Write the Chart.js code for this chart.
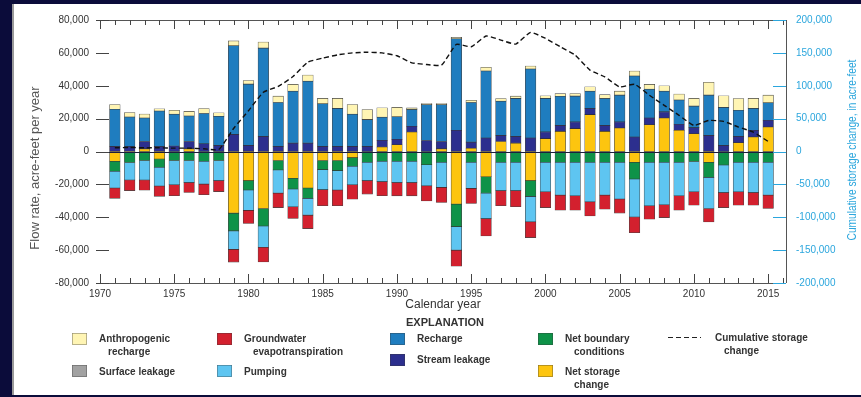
<!DOCTYPE html>
<html>
<head>
<meta charset="utf-8">
<script src="https://cdn.jsdelivr.net/npm/chart.js@4.4.1/dist/chart.umd.min.js"></script>
<style>
  html, body { margin: 0; padding: 0; background: #0b0c3a; }
  #panel { position: absolute; left: 12px; top: 4px; width: 849px; height: 391px; background: #fff; border-left: 2px solid #9a9a9a; box-sizing: border-box; }
  #chart { position: absolute; left: 0; top: 0; }
</style>
</head>
<body>
<div id="panel"></div>
<canvas id="chart" width="861" height="397"></canvas>
<script>
// Calendar years of the water budget
const years = [1971, 1972, 1973, 1974, 1975, 1976, 1977, 1978, 1979, 1980,
  1981, 1982, 1983, 1984, 1985, 1986, 1987, 1988, 1989, 1990,
  1991, 1992, 1993, 1994, 1995, 1996, 1997, 1998, 1999, 2000,
  2001, 2002, 2003, 2004, 2005, 2006, 2007, 2008, 2009, 2010,
  2011, 2012, 2013, 2014, 2015];

// Inflows (acre-feet per year)
const anthropogenicRecharge = [2900, 2700, 2400, 1400, 2400, 2800, 3000, 2200, 3000, 2200,
  3700, 3900, 4100, 3700, 3300, 6100, 5900, 6100, 5700, 5700,
  1000, 600, 600, 800, 1400, 2200, 1600, 1400, 1800, 1600,
  1600, 1600, 2700, 2400, 2400, 3100, 2900, 3300, 3700, 4700,
  7800, 7100, 7100, 6100, 4700];
const recharge = [22600, 18000, 14300, 21600, 19400, 15500, 18400, 17700, 53900, 37300,
  53700, 26700, 31600, 37700, 25900, 23100, 19600, 16300, 14100, 13700,
  10200, 21800, 22400, 55700, 24100, 40800, 20800, 23100, 42000, 20400,
  17700, 15700, 10600, 16300, 16300, 37100, 17500, 12600, 14700, 13100,
  24500, 23100, 15900, 13300, 10600];
const streamLeakage = [3100, 3000, 4500, 3000, 3300, 4500, 4700, 3700, 10400, 3700,
  9200, 3100, 5100, 5100, 3100, 3100, 3100, 3100, 4100, 3300,
  3500, 6700, 4500, 12900, 3700, 8200, 3700, 4100, 8200, 4100,
  3700, 4100, 3700, 3700, 3700, 8800, 4100, 3700, 3700, 3700,
  9800, 3700, 3900, 4100, 4100];
const surfaceLeakage = [0, 0, 0, 0, 0, 0, 0, 0, 0, 0,
  0, 0, 0, 0, 0, 0, 0, 0, 0, 0,
  0, 0, 0, 0, 0, 0, 0, 0, 0, 0,
  0, 0, 0, 0, 0, 0, 0, 0, 0, 0,
  0, 0, 0, 0, 0];

// Net storage change: positive = water taken from storage
const netStorageChange = [-5900, -700, 1600, -4500, 0, 1600, 0, 0, -37500, -17700,
  -34700, -5500, -16300, -22200, -5500, -5500, -3700, 0, 2700, 4100,
  11800, 0, 1600, -32000, 2000, -15300, 6100, 5100, -17700, 7800,
  12200, 13900, 22400, 12200, 14300, -6500, 16300, 20400, 12900, 10800,
  -6500, 0, 5300, 8800, 14900];

// Outflows (acre-feet per year)
const netBoundary = [-6100, -6000, -5500, -5100, -5500, -5500, -5900, -5500, -10800, -5700,
  -10600, -5700, -6500, -6300, -5500, -6100, -5300, -6500, -5900, -5900,
  -5900, -8000, -6500, -13700, -6500, -10000, -6500, -6500, -9600, -6500,
  -6500, -6500, -6500, -6500, -6500, -10200, -6500, -6500, -6500, -6100,
  -9200, -8200, -6500, -6500, -6500];
const pumping = [-10200, -10600, -11800, -11400, -14700, -13300, -13900, -12200, -11200, -12400,
  -12900, -14100, -10800, -10200, -12200, -11800, -11200, -11200, -12400, -12900,
  -12900, -12900, -15300, -14300, -15900, -15500, -17300, -17300, -15500, -18000,
  -20000, -20400, -24100, -20000, -22400, -23100, -26500, -25900, -20400, -18400,
  -19000, -16700, -18000, -18400, -20000];
const groundwaterET = [-6300, -6500, -6300, -6300, -6700, -6100, -6500, -6700, -7800, -8000,
  -9000, -8800, -7100, -8200, -9800, -9600, -8800, -8200, -8600, -8200,
  -8200, -9200, -9200, -9800, -9200, -10600, -9200, -9800, -9600, -9600,
  -9200, -8800, -8600, -8600, -8600, -9600, -8200, -7800, -8800, -8200,
  -8200, -9200, -8200, -7800, -8200];

// Cumulative storage change (acre-feet), right axis
const cumulativeStorage = [5600, 6100, 5600, 5600, 5100, 5100, 4100, 3000, 35000, 62000,
  90000, 99000, 114000, 136000, 142000, 147000, 150000, 151000, 150000, 145600,
  134900, 132300, 131300, 162900, 159300, 175600, 169500, 163400, 181200, 172000,
  159300, 146600, 123700, 113500, 98200, 102300, 85500, 70200, 55000, 39700,
  47300, 45800, 37200, 29500, 15300];

// Axis ticks
const yearTicks = [1970, 1975, 1980, 1985, 1990, 1995, 2000, 2005, 2010, 2015];
const flowTicks = [-80000, -60000, -40000, -20000, 0, 20000, 40000, 60000, 80000];
const storageTicks = [-200000, -150000, -100000, -50000, 0, 50000, 100000, 150000, 200000];

const colors = {
  anthro: '#fff5b4',
  et: '#d3202e',
  recharge: '#1f7dbf',
  boundary: '#0e9248',
  surface: '#a2a2a2',
  pumping: '#5ec5f1',
  stream: '#2c2f8e',
  storage: '#fdc50f',
  cyan: '#2ba6dd'
};

const FONT = "'Liberation Sans', Arial, sans-serif";
Chart.defaults.font.family = FONT;
Chart.defaults.color = '#333';

const pts = arr => years.map((yr, i) => ({ x: yr, y: arr[i] }));

function barSet(label, arr, color) {
  return {
    type: 'bar',
    label,
    data: pts(arr),
    backgroundColor: color,
    borderColor: 'rgba(35,35,35,0.85)',
    borderWidth: 0.6,
    borderSkipped: false,
    barThickness: 10.6,
    yAxisID: 'y',
    order: 2
  };
}

const legendItems = [
  { color: colors.anthro, bx: 72, by: 333, tx: 99, ty: 339, lines: ['Anthropogenic', 'recharge'] },
  { color: colors.surface, bx: 72, by: 365, tx: 99, ty: 372, lines: ['Surface leakage'] },
  { color: colors.et, bx: 217, by: 333, tx: 244, ty: 339, lines: ['Groundwater', 'evapotranspiration'] },
  { color: colors.pumping, bx: 217, by: 365, tx: 244, ty: 372, lines: ['Pumping'] },
  { color: colors.recharge, bx: 390, by: 333, tx: 417, ty: 339, lines: ['Recharge'] },
  { color: colors.stream, bx: 390, by: 354, tx: 417, ty: 360, lines: ['Stream leakage'] },
  { color: colors.boundary, bx: 538, by: 333, tx: 565, ty: 339, lines: ['Net boundary', 'conditions'] },
  { color: colors.storage, bx: 538, by: 365, tx: 565, ty: 372, lines: ['Net storage', 'change'] },
  { dashed: true, bx: 668, by: 337, tx: 715, ty: 338, lines: ['Cumulative storage', 'change'] }
];

function seg(ctx, x1, y1, x2, y2) {
  ctx.beginPath();
  ctx.moveTo(x1, y1);
  ctx.lineTo(x2, y2);
  ctx.stroke();
}

// rotated, slightly condensed axis title
function sideTitle(ctx, text, cx, cy, squeeze) {
  ctx.save();
  ctx.translate(cx, cy);
  ctx.rotate(-Math.PI / 2);
  ctx.scale(squeeze, 1);
  ctx.fillText(text, 0, 0);
  ctx.restore();
}

const decor = {
  id: 'decor',
  afterDatasetsDraw(chart) {
    const { ctx, chartArea: a, scales } = chart;
    const x = scales.x, y = scales.y, y2 = scales.y2;
    ctx.save();
    ctx.lineWidth = 1;

    // zero line
    ctx.strokeStyle = '#1c1f3c';
    const y0 = Math.round(y.getPixelForValue(0)) + 0.5;
    seg(ctx, a.left, y0, a.right, y0);

    // frame: top, bottom and right side
    ctx.strokeStyle = '#555';
    seg(ctx, a.left, a.top + 0.5, a.right, a.top + 0.5);
    seg(ctx, a.left, a.bottom + 0.5, a.right, a.bottom + 0.5);
    seg(ctx, a.right + 0.5, a.top, a.right + 0.5, a.bottom);

    // year ticks point inward from top and bottom
    ctx.strokeStyle = '#444';
    for (let yr = 1970; yr <= 2016; yr++) {
      const px = Math.round(x.getPixelForValue(yr)) + 0.5;
      const len = yr % 5 === 0 ? 9 : 5;
      seg(ctx, px, a.top, px, a.top + len);
      seg(ctx, px, a.bottom, px, a.bottom - len);
    }

    // flow-rate ticks on the left
    flowTicks.forEach(v => {
      const py = Math.round(y.getPixelForValue(v)) + 0.5;
      seg(ctx, a.left - 4, py, a.left + 9, py);
    });

    // storage ticks on the right
    ctx.strokeStyle = colors.cyan;
    storageTicks.forEach(v => {
      const py = Math.round(y2.getPixelForValue(v)) + 0.5;
      seg(ctx, a.right - 13, py, a.right, py);
    });
    ctx.restore();
  },
  afterDraw(chart) {
    const { ctx } = chart;
    ctx.save();

    // axis titles
    ctx.textAlign = 'center';
    ctx.textBaseline = 'middle';
    ctx.fillStyle = '#555';
    ctx.font = '13px ' + FONT;
    sideTitle(ctx, 'Flow rate, acre-feet per year', 35, 168, 1);

    ctx.fillStyle = colors.cyan;
    ctx.font = '12px ' + FONT;
    sideTitle(ctx, 'Cumulative storage change, in acre-feet', 853, 150, 0.85);

    ctx.fillStyle = '#333';
    ctx.fillText('Calendar year', 443, 305);
    ctx.font = 'bold 11px ' + FONT;
    ctx.fillText('EXPLANATION', 445, 323);

    // explanation entries
    ctx.textAlign = 'left';
    ctx.font = 'bold 10px ' + FONT;
    legendItems.forEach(it => {
      if (it.dashed) {
        ctx.strokeStyle = '#222';
        ctx.lineWidth = 1.2;
        ctx.setLineDash([5, 3]);
        seg(ctx, it.bx, it.by + 0.5, it.bx + 33, it.by + 0.5);
        ctx.setLineDash([]);
      } else {
        ctx.fillStyle = it.color;
        ctx.fillRect(it.bx, it.by, 15, 12);
        ctx.strokeStyle = 'rgba(60,60,60,0.6)';
        ctx.lineWidth = 0.6;
        ctx.strokeRect(it.bx + 0.3, it.by + 0.3, 14.4, 11.4);
      }
      ctx.fillStyle = '#333';
      it.lines.forEach((t, k) => {
        ctx.fillText(t, it.tx + (k ? 9 : 0), it.ty + k * 13);
      });
    });
    ctx.restore();
  }
};

new Chart(document.getElementById('chart'), {
  data: {
    datasets: [
      {
        type: 'line',
        label: 'Cumulative storage change',
        data: pts(cumulativeStorage),
        yAxisID: 'y2',
        borderColor: '#111',
        borderWidth: 1.4,
        borderDash: [5, 3],
        pointRadius: 0,
        tension: 0.15,
        fill: false,
        order: 0
      },
      barSet('Net storage change', netStorageChange, colors.storage),
      barSet('Stream leakage', streamLeakage, colors.stream),
      barSet('Net boundary conditions', netBoundary, colors.boundary),
      barSet('Recharge', recharge, colors.recharge),
      barSet('Pumping', pumping, colors.pumping),
      barSet('Anthropogenic recharge', anthropogenicRecharge, colors.anthro),
      barSet('Groundwater evapotranspiration', groundwaterET, colors.et),
      barSet('Surface leakage', surfaceLeakage, colors.surface)
    ]
  },
  options: {
    responsive: false,
    devicePixelRatio: 1,
    animation: false,
    layout: { padding: { top: 20, left: 0, right: 0, bottom: 0 } },
    plugins: {
      legend: { display: false },
      tooltip: { enabled: false }
    },
    scales: {
      x: {
        type: 'linear',
        min: 1970,
        max: 2016.2,
        offset: false,
        stacked: true,
        grid: { display: false, drawTicks: false, offset: false },
        border: { display: false },
        afterBuildTicks: s => { s.ticks = yearTicks.map(v => ({ value: v })); },
        afterFit: s => { s.height = 114; },
        ticks: {
          padding: 5,
          maxRotation: 0,
          autoSkip: false,
          font: { size: 10 },
          color: '#333',
          callback: v => String(v)
        }
      },
      y: {
        type: 'linear',
        position: 'left',
        min: -80000,
        max: 80000,
        stacked: true,
        grid: { display: false, drawTicks: false },
        border: { display: false },
        afterBuildTicks: s => { s.ticks = flowTicks.map(v => ({ value: v })); },
        afterFit: s => { s.width = 100; },
        ticks: {
          padding: 11,
          font: { size: 10 },
          color: '#333',
          callback: v => v.toLocaleString('en-US')
        }
      },
      y2: {
        type: 'linear',
        position: 'right',
        min: -200000,
        max: 200000,
        grid: { display: false, drawTicks: false },
        border: { display: false },
        afterBuildTicks: s => { s.ticks = storageTicks.map(v => ({ value: v })); },
        afterFit: s => { s.width = 75; },
        ticks: {
          padding: 10,
          font: { size: 10 },
          color: colors.cyan,
          callback: v => v.toLocaleString('en-US')
        }
      }
    }
  },
  plugins: [decor]
});
</script>
</body>
</html>
